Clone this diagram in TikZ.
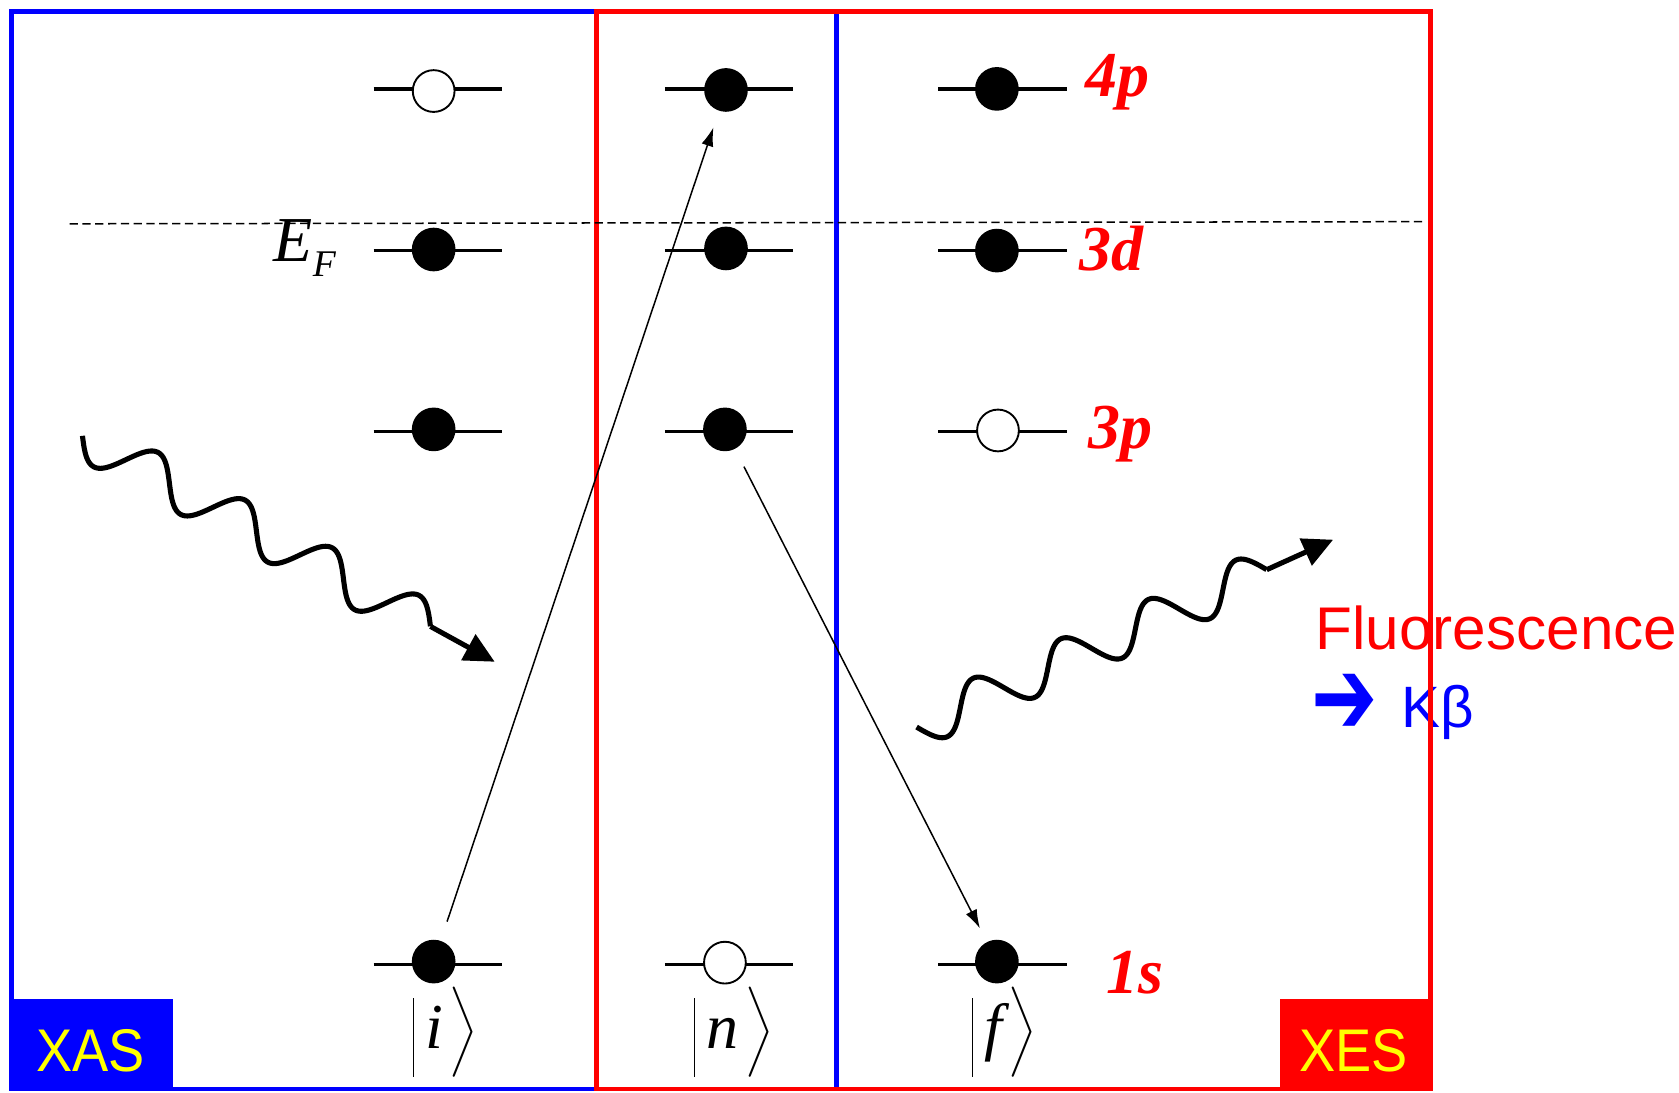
\documentclass[tikz,border=0pt]{standalone}
\usepackage{fontspec}
\setmainfont{Liberation Sans}
\newfontfamily\timesfont{Liberation Serif}
\newfontfamily\symfont{DejaVu Sans}
\usetikzlibrary{arrows.meta}

\definecolor{xblue}{RGB}{0,0,255}
\definecolor{xred}{RGB}{255,0,0}
\definecolor{xyellow}{RGB}{255,255,0}

\newcommand{\ketof}[1]{\rule[-7.5pt]{0.45pt}{21pt}\hspace{3pt}#1\hspace{0.5pt}$\left.\vrule height 13pt depth 6pt width 0pt\right\rangle$}

\tikzset{
  level/.style={line width=0.9pt},
  full/.style={circle, fill=black, draw=black, line width=0.5pt, minimum size=0.39cm, inner sep=0pt},
  hole/.style={circle, fill=white, draw=black, line width=0.5pt, minimum size=0.39cm, inner sep=0pt},
  orb/.style={text=xred, font=\timesfont\bfseries\itshape\fontsize{17}{20}\selectfont, anchor=base west, inner sep=0pt},
  ket/.style={font=\timesfont\itshape\fontsize{17}{20}\selectfont, inner sep=0pt},
  photon/.style={line width=1.35pt, line join=round},
  jump/.style={-{Latex[length=5pt,width=3.2pt]}, line width=0.4pt},
  tag/.style={font=\fontsize{16}{19}\selectfont, text=xyellow, anchor=base west, inner sep=0pt}
}

\begin{document}
\begin{tikzpicture}[x=0.01cm, y=-0.01cm]
    \useasboundingbox (0,0) rectangle (1568,1020);

    % side text, under the frames
    \node[anchor=base west, text=xred, font=\fontsize{16}{19}\selectfont, inner sep=0pt] (fluo) at (1228,607) {Fluorescence};
    \node[text=xblue, inner sep=0pt] (kbarrow) at (1256,658) {\symfont\fontsize{20}{24}\selectfont\scalebox{1.05}[1.45]{➔}};
    \node[anchor=base west, text=xblue, font=\fontsize{15.5}{19}\selectfont, inner sep=0pt] (kb) at (1308,679) {Kβ};

    % frames
    \draw[xblue, line width=1.3pt] (11,11) rectangle (781,1017);
    \draw[xred, line width=1.3pt] (557,11) rectangle (1336,1017);

    % Fermi level
    \draw[dash pattern=on 2.2pt off 1.2pt, line width=0.4pt] (65,209) -- (1330,207);
    \node[anchor=base west, inner sep=0pt] (ef) at (255,244)
        {\timesfont\itshape\fontsize{17}{20}\selectfont E\raisebox{-4pt}{\fontsize{10}{12}\selectfont F}};

    % levels
    \foreach \x in {409,681,936}
        \foreach \y in {83,234,403,901}
            \draw[level] (\x-60,\y) -- (\x+60,\y);

    % electrons and holes
    \node[hole] (i4p) at (405,85) {};
    \node[full] (i3d) at (405,233) {};
    \node[full] (i3p) at (405,401) {};
    \node[full] (i1s) at (405,898) {};
    \node[full] (n4p) at (678,84) {};
    \node[full] (n3d) at (678,232) {};
    \node[full] (n3p) at (677,401) {};
    \node[hole] (n1s) at (677,899) {};
    \node[full] (f4p) at (931,83) {};
    \node[full] (f3d) at (931,234) {};
    \node[hole] (f3p) at (932,402) {};
    \node[full] (f1s) at (931,898) {};

    % orbital names
    \node[orb] (l4p) at (1013,90) {4p};
    \node[orb] (l3d) at (1007,253) {3d};
    \node[orb] (l3p) at (1016,419) {3p};
    \node[orb] (l1s) at (1033,928) {1s};

    % states
    \node[ket] (ki) at (416,964) {\ketof{i}};
    \node[ket] (kn) at (685,964) {\ketof{n}};
    \node[ket] (kf) at (938,964) {\ketof{f}};

    % transitions
    \draw[jump, shorten <=5.4pt, shorten >=4.7pt] (i1s) -- (n4p);
    \draw[jump, shorten <=5.3pt, shorten >=4.1pt] (n3p) -- (f1s);

    % incoming and emitted photons
    \coordinate (inA) at (77,407);
    \coordinate (inB) at (402,585);
    \coordinate (inC) at (462,618);
    \draw[photon] plot[domain=0:1, samples=241, smooth]
        ({77+325*\x-9.8*sin(1440*\x)}, {407+178*\x+17.8*sin(1440*\x)});
    \draw[photon, -{Triangle[length=8pt,width=7.6pt]}] (inB) -- (inC);

    \coordinate (outA) at (856,679);
    \coordinate (outB) at (1183,532);
    \coordinate (outC) at (1245,504);
    \draw[photon] plot[domain=0:1, samples=241, smooth]
        ({856+327*\x+8.2*sin(1440*\x)}, {679-147*\x+18.2*sin(1440*\x)});
    \draw[photon, -{Triangle[length=8pt,width=7.6pt]}] (outB) -- (outC);

    % corner tags
    \fill[xblue] (11,933) rectangle (162,1018);
    \node[tag] (xas) at (33,1001) {\scalebox{0.9}[1]{XAS}};
    \fill[xred] (1195,933) rectangle (1337,1018);
    \node[tag] (xes) at (1213,1001) {\scalebox{0.9}[1]{XES}};
\end{tikzpicture}
\end{document}
